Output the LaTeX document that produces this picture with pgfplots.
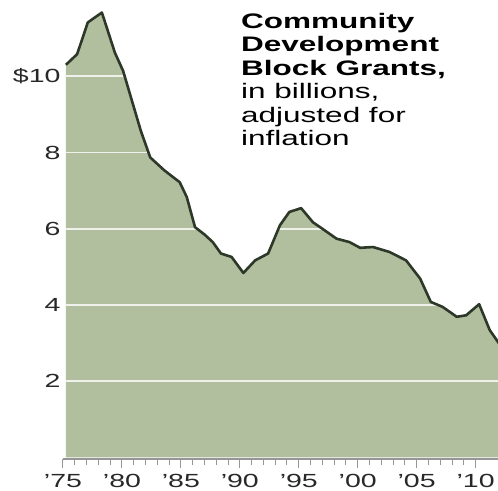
\documentclass[border=0pt]{standalone}
\usepackage{fontspec}
\setmainfont[FakeStretch=1.5]{Liberation Sans}
\usepackage{pgfplots}
\usepackage{pgfplotstable}
\pgfplotsset{compat=1.18}
\definecolor{fillg}{RGB}{177,191,159}
\definecolor{lineg}{RGB}{45,56,40}
\definecolor{tickg}{RGB}{150,150,150}
\definecolor{labg}{RGB}{40,40,40}

\pgfplotstableread{
year val
1975.25 10.30
1976.2 10.58
1977.1 11.41
1977.6 11.52
1978.3 11.67
1979.4 10.62
1980.1 10.14
1981.6 8.57
1982.4 7.87
1983.6 7.53
1984.9 7.22
1985.5 6.83
1986.2 6.04
1987.0 5.85
1987.7 5.65
1988.4 5.35
1989.3 5.26
1990.3 4.84
1991.3 5.17
1992.4 5.35
1993.4 6.09
1994.2 6.44
1995.2 6.54
1996.2 6.17
1997.0 6.00
1998.2 5.74
1999.3 5.65
2000.2 5.50
2001.3 5.52
2002.7 5.39
2004.1 5.17
2005.3 4.69
2006.2 4.08
2007.2 3.95
2008.4 3.69
2009.2 3.73
2010.3 4.02
2011.2 3.34
2011.9 3.03
2012.3 2.85
}\cdbg

\begin{document}
\begin{tikzpicture}
\begin{axis}[
  at={(0,0)}, anchor=south west,
  scale only axis, width=435bp, height=459bp,
  xmin=1975, xmax=2011.9, ymin=-0.04, ymax=12,
  axis x line*=bottom, axis y line*=left,
  y axis line style={draw=none},
  x axis line style={tickg, line width=1.2bp},
  xtick={1975,1980,...,2010},
  xticklabels={'75,'80,'85,'90,'95,'00,'05,'10},
  minor x tick num=4,
  tick align=outside,
  major tick length=9bp, minor tick length=6bp,
  xtick style={tickg, line width=1bp},
  ytick={2,4,6,8,10}, yticklabels={2,4,6,8,\$10},
  ytick style={draw=none},
  tick label style={font=\fontsize{19bp}{22bp}\selectfont, text=labg},
  xticklabel style={yshift=-3bp},
  yticklabel style={xshift=10bp},
  /pgf/number format/assume math mode=true,
  clip=true,
]
\addplot[fill=fillg, draw=none] table[x=year, y=val] {\cdbg} \closedcycle;
\addplot[white, opacity=0.8, line width=1.8bp, forget plot] coordinates {(1975.25,2) (2013,2)};
\addplot[white, opacity=0.8, line width=1.8bp, forget plot] coordinates {(1975.25,4) (2013,4)};
\addplot[white, opacity=0.8, line width=1.8bp, forget plot] coordinates {(1975.25,6) (2013,6)};
\addplot[white, opacity=0.8, line width=1.8bp, forget plot] coordinates {(1975.25,8) (2013,8)};
\addplot[white, opacity=0.8, line width=1.8bp, forget plot] coordinates {(1975.25,10) (2013,10)};
\addplot[lineg, line width=2.6bp, line join=round] table[x=year, y=val] {\cdbg};
\end{axis}
\node[anchor=north west, align=left, inner sep=0, text=black,
  font=\fontsize{21bp}{23.4bp}\selectfont] at (178bp,446bp)
  {\textbf{Community}\\\textbf{Development}\\\textbf{Block Grants,}\\in billions,\\adjusted for\\inflation};
\pgfresetboundingbox
\useasboundingbox (-63bp,-32bp) rectangle (435bp,459bp);
\end{tikzpicture}
\end{document}
